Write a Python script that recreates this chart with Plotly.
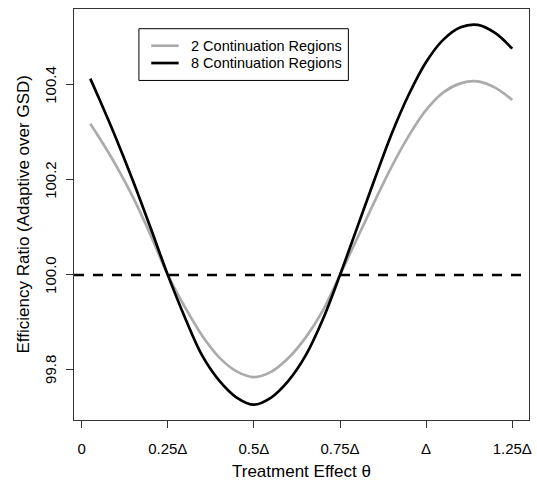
import plotly.graph_objects as go

theta = [0.025, 0.05, 0.1, 0.15, 0.2, 0.25, 0.3, 0.35, 0.4, 0.45, 0.5, 0.55, 0.6,
         0.65, 0.7, 0.75, 0.8, 0.85, 0.9, 0.95, 1.0, 1.05, 1.1, 1.15, 1.2, 1.25]
ratio_2 = [100.318, 100.290, 100.230, 100.162, 100.084, 100.000, 99.932, 99.872,
           99.826, 99.797, 99.785, 99.796, 99.825, 99.868, 99.925, 100.000,
           100.077, 100.154, 100.228, 100.293, 100.347, 100.384, 100.403, 100.407,
           100.394, 100.368]
ratio_8 = [100.413, 100.372, 100.287, 100.196, 100.099, 100.000, 99.910, 99.830,
           99.777, 99.742, 99.727, 99.742, 99.777, 99.830, 99.906, 100.000,
           100.100, 100.200, 100.297, 100.380, 100.448, 100.495, 100.521, 100.526,
           100.509, 100.476]
series_names = ["2 Continuation Regions", "8 Continuation Regions"]
x_tickvals = [0, 0.25, 0.5, 0.75, 1.0, 1.25]
x_ticktext = ["0", "0.25\u0394", "0.5\u0394", "0.75\u0394", "\u0394", "1.25\u0394"]
y_tickvals = [99.8, 100.0, 100.2, 100.4]
y_ticktext = ["99.8", "100.0", "100.2", "100.4"]
ref_level = 100.0

FONT = "Liberation Sans, Arial, Helvetica, sans-serif"
GRAY = "#ABABAB"

# plot-area pixel geometry
L, R, T, B = 74, 531.7, 9.3, 420
PW, PH = R - L, B - T
def px(xp):
    return (xp - L) / PW
def py(yp):
    return (B - yp) / PH

fig = go.Figure()
fig.add_trace(go.Scatter(x=theta, y=ratio_2, mode="lines", name=series_names[0],
                         line=dict(color=GRAY, width=2.7, shape="spline", smoothing=1.0)))
fig.add_trace(go.Scatter(x=theta, y=ratio_8, mode="lines", name=series_names[1],
                         line=dict(color="#000000", width=2.7, shape="spline", smoothing=1.0)))

fig.add_shape(type="line", xref="paper", x0=0, x1=1, yref="y", y0=ref_level, y1=ref_level,
              line=dict(color="#000000", width=2.5, dash="10px,9px"), layer="above")

# legend (drawn manually to match spacing)
fig.add_shape(type="rect", xref="paper", yref="paper", x0=px(139.3), x1=px(350),
              y0=py(80.7), y1=py(29), line=dict(color="#000000", width=1),
              fillcolor="white", layer="above")
annotations = []
for i, (nm, col) in enumerate(zip(series_names, [GRAY, "#000000"])):
    yy = 46 + i * 17.3
    fig.add_shape(type="line", xref="paper", yref="paper", x0=px(151.7), x1=px(179.3),
                  y0=py(yy), y1=py(yy), line=dict(color=col, width=2.7), layer="above")
    annotations.append(dict(text=nm, xref="paper", yref="paper", x=px(190), y=py(yy),
                            xanchor="left", yanchor="middle", showarrow=False,
                            font=dict(size=14.5)))

# rotated y tick labels (R style, las=0)
for v, t in zip(y_tickvals, y_ticktext):
    annotations.append(dict(text=t, xref="paper", yref="y", x=0, xshift=-(L - 51), y=v,
                            xanchor="center", yanchor="middle", textangle=-90,
                            showarrow=False, font=dict(size=15)))

annotations += [
    dict(text="Treatment Effect \u03b8", xref="paper", yref="paper",
         x=0.5, y=0, yshift=-(471.5 - 420), xanchor="center", yanchor="middle",
         showarrow=False, font=dict(size=17)),
    dict(text="Efficiency Ratio (Adaptive over GSD)", xref="paper", yref="paper",
         x=0, xshift=-(L - 23), y=0.5, xanchor="center", yanchor="middle",
         textangle=-90, showarrow=False, font=dict(size=17)),
]

fig.update_layout(
    width=537, height=485,
    margin=dict(l=L, r=537 - R, t=T, b=485 - B, pad=0),
    paper_bgcolor="white", plot_bgcolor="white",
    font=dict(family=FONT, size=15, color="#000000"),
    showlegend=False,
    xaxis=dict(range=[-0.0222, 1.2986], tickvals=x_tickvals, ticktext=x_ticktext,
               showgrid=False, zeroline=False, showline=True, mirror=True,
               linecolor="#333333", linewidth=1, ticks="outside", ticklen=7,
               tickcolor="#333333", tickwidth=1, ticklabelstandoff=8,
               tickfont=dict(size=15)),
    yaxis=dict(range=[99.6947, 100.5594], tickvals=y_tickvals, showticklabels=False,
               showgrid=False, zeroline=False, showline=True, mirror=True,
               linecolor="#333333", linewidth=1, ticks="outside", ticklen=7,
               tickcolor="#333333", tickwidth=1),
    annotations=annotations,
)

fig.write_html("out.html")
